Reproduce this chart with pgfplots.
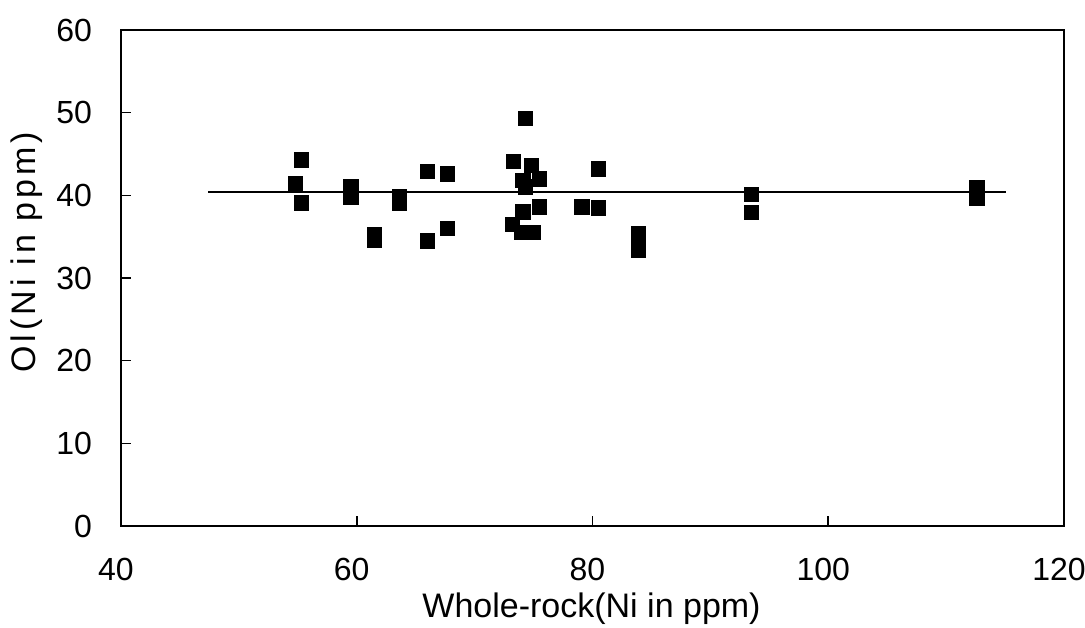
\documentclass[border=0pt]{standalone}
\usepackage{pgfplots}
\pgfplotsset{compat=1.18}
\usepackage{fontspec}
\setmainfont{Liberation Sans}
\begin{document}
\begin{tikzpicture}
\begin{axis}[
  name=ax,
  width=471.5pt, height=248pt, scale only axis,
  xmin=40, xmax=120, ymin=0, ymax=60,
  xtick={40,60,80,100,120}, ytick={0,10,20,30,40,50,60},
  xtick pos=bottom, ytick pos=left, tick align=inside,
  major tick length=5pt,
  axis line style={line width=1.1pt},
  tick style={line width=0.8pt, black},
  tick label style={font=\fontsize{16}{18}\selectfont},
  /pgf/number format/assume math mode=true,
  xticklabel style={yshift=-12.5pt, xshift=-2.5pt},
  yticklabel style={xshift=-11pt},
  xlabel={Whole-rock(Ni in ppm)},
  ylabel={Ol(Ni in ppm)},
  xlabel style={font=\fontsize{17}{19}\selectfont, at={(axis description cs:0.499,-0.167)}, anchor=center},
  ylabel style={font=\fontsize{17}{19}\selectfont\addfontfeature{LetterSpace=12}, at={(axis description cs:-0.0997,0.552)}, anchor=center},
]
\addplot[only marks, mark=square*, mark size=3.6pt, black] coordinates {
(55.3,44.3) (54.8,41.4) (55.3,39.1)
(59.5,41.0) (59.5,39.8)
(63.6,39.8) (63.6,39.0)
(61.5,35.3) (61.5,34.6)
(66.0,42.9) (67.7,42.6) (66.0,34.5) (67.7,36.0)
(74.3,49.3) (73.3,44.1) (74.8,43.6)
(74.1,41.8) (75.5,42.0) (74.3,41.0)
(75.5,38.6) (74.1,38.0) (73.2,36.5)
(74.0,35.5) (75.0,35.5)
(79.1,38.6) (80.5,38.5) (80.5,43.2)
(83.9,35.4) (83.9,34.3) (83.9,33.4)
(93.5,40.1) (93.5,37.9)
(112.6,40.9) (112.6,39.7)
};
\addplot[no marks, black, line width=0.9pt] coordinates {(47.4,40.45) (115.1,40.45)};
\end{axis}
\pgfresetboundingbox
\path ([shift={(-60.5pt,-50.5pt)}]ax.south west) rectangle ([shift={(10.5pt,15pt)}]ax.north east);
\end{tikzpicture}
\end{document}
